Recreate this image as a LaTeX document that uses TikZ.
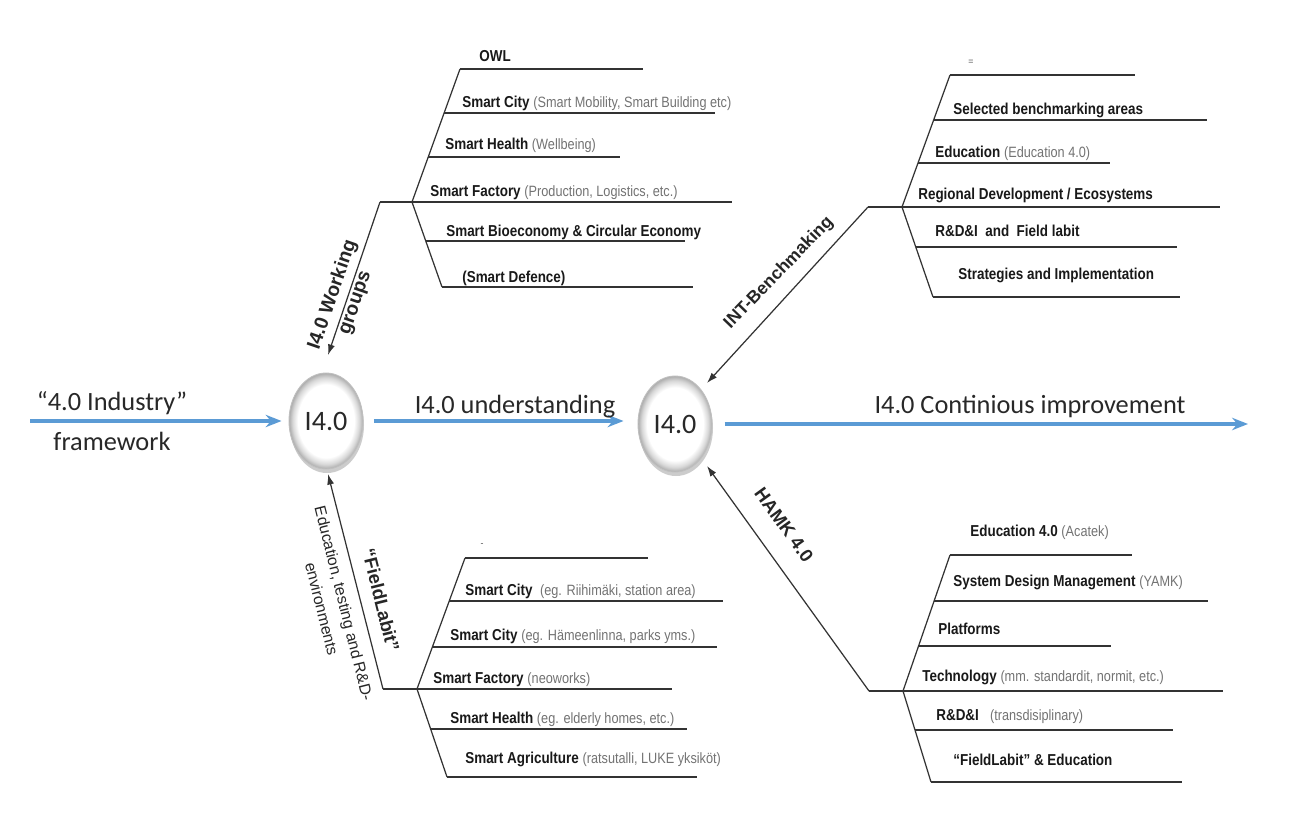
\documentclass[tikz,border=0pt]{standalone}
\usepackage{fontspec}
\usetikzlibrary{arrows.meta,shapes.geometric}
\newfontfamily\nar[FakeStretch=0.85]{Liberation Sans}
\newfontfamily\arl{Liberation Sans}
\newfontfamily\calf{Carlito}
\definecolor{blueA}{RGB}{91,155,213}
\definecolor{txtA}{RGB}{40,40,40}
\pgfdeclareradialshading{ringshade}{\pgfpointorigin}{color(0bp)=(white); color(19bp)=(white); color(22.5bp)=(gray!30); color(25bp)=(gray!65); color(50bp)=(gray!65)}
\newcommand{\pn}[1]{{\mdseries\fontsize{8.5}{9}\selectfont\color{black!55}#1}}
\tikzset{
  tline/.style={draw=black!80, line width=0.7pt},
  tarr/.style={draw=black!80, line width=0.7pt, -{Latex[length=6pt,width=4pt]}},
  itm/.style={anchor=base west, inner sep=0pt, font=\nar\fontsize{9}{10}\selectfont\bfseries, text=black!90},
  tinym/.style={inner sep=0pt, font=\arl\fontsize{5}{5}\selectfont, text=black!70},
  blu/.style={draw=blueA, line width=2.2pt, -{Stealth[length=9pt,width=7pt]}},
  big/.style={inner sep=0pt, font=\calf\fontsize{15}{17}\selectfont, text=txtA},
  hub/.style={ellipse, minimum width=1.48cm, minimum height=1.92cm, inner sep=0pt, shading=ringshade, draw=gray!50, line width=0.5pt, font=\calf\fontsize{16}{18}\selectfont, text=txtA},
  rlab/.style={inner sep=0pt, font=\arl\bfseries\fontsize{10}{12}\selectfont, text=black!85}
}
\begin{document}
\begin{tikzpicture}[x=0.02cm, y=-0.02cm]
\useasboundingbox[fill=white] (0,0) rectangle (1309,831);

% hubs
\fill[gray!40] (327,425) ellipse (37 and 48);
\node[hub] (c1) at (326,421) {I4.0};
\fill[gray!40] (676,428) ellipse (37 and 48);
\node[hub] (c2) at (675,424) {I4.0};

% blue main arrows
\coordinate (in1) at (30,421);
\coordinate (out3) at (1248,424);
\draw[blu, shorten >=4pt] (in1) -- (c1.west);
\draw[blu, shorten <=6pt, shorten >=8pt] (c1.east) -- (c2.west |- c1.east);
\draw[blu, shorten <=7pt] (c2.east) -- (out3);
\node[big, anchor=base] (l1a) at (112,410) {“4.0 Industry”};
\node[big, anchor=base] (l1b) at (112,450) {framework};
\node[big, anchor=base] (l2) at (515,413) {I4.0 understanding};
\node[big, anchor=base] (l3) at (1030,413) {I4.0 Continious improvement};

% ---------- Working groups tree ----------
\coordinate (wgRoot) at (380,202);
\coordinate (wgBr) at (412,202);
\coordinate (wgTop) at (460,69);
\coordinate (wgBot) at (442,287);
\coordinate (wgTip) at (328,355);
\draw[tline] (wgTop) -- (wgBr) -- (wgBot);
\draw[tline] (wgRoot) -- (wgBr);
\draw[tarr] (wgRoot) -- (wgTip);
\draw[tline] (wgTop) -- (643,69);
\draw[tline] (444,113) -- (715,113);
\draw[tline] (428,157) -- (620,157);
\draw[tline] (wgBr) -- (732,202);
\draw[tline] (426,241) -- (685,241);
\draw[tline] (wgBot) -- (693,287);
\node[itm] (wg0) at (479,62) {OWL};
\node[itm] (wg1) at (462,108) {Smart City \pn{(Smart Mobility, Smart Building etc)}};
\node[itm] (wg2) at (445,150) {Smart Health \pn{(Wellbeing)}};
\node[itm] (wg3) at (430,197) {Smart Factory \pn{(Production, Logistics, etc.)}};
\node[itm] (wg4) at (446,237) {Smart Bioeconomy \& Circular Economy};
\node[itm] (wg5) at (462,283) {(Smart Defence)};
\node[rlab, rotate=71, align=center, font=\arl\bfseries\fontsize{11}{13.5}\selectfont] (wglab) at (344,299) {I4.0 Working\\groups};

% ---------- INT benchmarking tree ----------
\coordinate (itRoot) at (868,207);
\coordinate (itBr) at (902,207);
\coordinate (itTop) at (950,75);
\coordinate (itBot) at (933,297);
\coordinate (itTip) at (707,383);
\draw[tline] (itTop) -- (itBr) -- (itBot);
\draw[tline] (itRoot) -- (itBr);
\draw[tarr] (itRoot) -- (itTip);
\draw[tline] (itTop) -- (1135,75);
\draw[tline] (934,120) -- (1207,120);
\draw[tline] (918,163) -- (1110,163);
\draw[tline] (itBr) -- (1220,207);
\draw[tline] (916,247) -- (1177,247);
\draw[tline] (itBot) -- (1180,297);
\node[tinym] (it0) at (971,62) {=};
\node[itm] (it1) at (953,115) {Selected benchmarking areas};
\node[itm] (it2) at (935,158) {Education \pn{(Education 4.0)}};
\node[itm] (it3) at (918,200) {Regional Development / Ecosystems};
\node[itm] (it4) at (935,237) {R\&D\&I~~and~~Field labit};
\node[itm] (it5) at (958,280) {Strategies and Implementation};
\node[rlab, rotate=46] (itlab) at (779,273) {INT-Benchmaking};

% ---------- HAMK tree ----------
\coordinate (hmRoot) at (869,691);
\coordinate (hmBr) at (903,691);
\coordinate (hmTop) at (950,555);
\coordinate (hmBot) at (931,782);
\coordinate (hmTip) at (707,466);
\draw[tline] (hmTop) -- (hmBr) -- (hmBot);
\draw[tline] (hmRoot) -- (hmBr);
\draw[tarr] (hmRoot) -- (hmTip);
\draw[tline] (hmTop) -- (1132,555);
\draw[tline] (934,601) -- (1208,601);
\draw[tline] (919,646) -- (1111,646);
\draw[tline] (hmBr) -- (1223,691);
\draw[tline] (915,730) -- (1173,730);
\draw[tline] (hmBot) -- (1182,782);
\node[itm] (hm0) at (970,536) {Education 4.0 \pn{(Acatek)}};
\node[itm] (hm1) at (953,586) {System Design Management \pn{(YAMK)}};
\node[itm] (hm2) at (938,634) {Platforms};
\node[itm] (hm3) at (922,681) {Technology \pn{(mm. standardit, normit, etc.)}};
\node[itm] (hm4) at (936,720) {R\&D\&I~~~\pn{(transdisiplinary)}};
\node[itm] (hm5) at (953,765) {“FieldLabit” \& Education};
\node[rlab, rotate=-54, font=\arl\bfseries\fontsize{10.5}{12}\selectfont] (hmlab) at (784,525) {HAMK 4.0};

% ---------- FieldLabit tree ----------
\coordinate (flRoot) at (383,689);
\coordinate (flBr) at (417,689);
\coordinate (flTop) at (465,558);
\coordinate (flBot) at (447,777);
\coordinate (flTip) at (328,474);
\draw[tline] (flTop) -- (flBr) -- (flBot);
\draw[tline] (flRoot) -- (flBr);
\draw[tarr] (flRoot) -- (flTip);
\draw[tline] (flTop) -- (648,558);
\draw[tline] (449,601) -- (723,601);
\draw[tline] (432,647) -- (717,647);
\draw[tline] (flBr) -- (672,689);
\draw[tline] (431,729) -- (687,729);
\draw[tline] (flBot) -- (697,777);
\node[tinym] (fl0) at (482,545) {-};
\node[itm] (fl1) at (465,595) {Smart City~~\pn{(eg. Riihimäki, station area)}};
\node[itm] (fl2) at (450,640) {Smart City \pn{(eg. Hämeenlinna, parks yms.)}};
\node[itm] (fl3) at (433,683) {Smart Factory \pn{(neoworks)}};
\node[itm] (fl4) at (450,723) {Smart Health \pn{(eg. elderly homes, etc.)}};
\node[itm] (fl5) at (465,763) {Smart Agriculture \pn{(ratsutalli, LUKE yksiköt)}};
\node[rlab, rotate=-76, font=\arl\bfseries\fontsize{10.5}{12}\selectfont] (fllab) at (381,600) {“FieldLabit”};
\node[rlab, rotate=-76, align=center, font=\arl\fontsize{9}{13}\selectfont] (edlab) at (333,606) {Education, testing and R\&D-\\environments};
\end{tikzpicture}
\end{document}
